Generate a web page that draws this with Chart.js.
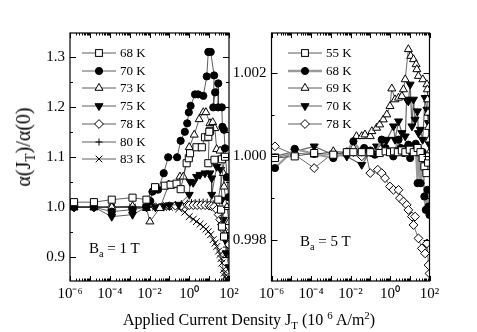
<!DOCTYPE html>
<html><head><meta charset="utf-8">
<script src="https://cdn.jsdelivr.net/npm/chart.js@4/dist/chart.umd.min.js"></script>
<style>
html,body{margin:0;padding:0;background:#fff;}
#wrap{position:relative;width:477px;height:332px;overflow:hidden;font-family:"Liberation Serif","Times New Roman",serif;color:#000;background:#fff;}
canvas{position:absolute;left:0;top:0;}
.t{position:absolute;white-space:nowrap;line-height:1;}
.t sub,.t sup{font-size:68%;line-height:0;}
.row{position:absolute;height:16px;display:flex;align-items:center;font-size:13px;white-space:nowrap;}
.row svg{display:block;margin-right:2px;}
</style></head>
<body><div id="wrap">
<canvas id="cL" width="477" height="332" style="width:477px;height:332px"></canvas>
<canvas id="cR" width="477" height="332" style="width:477px;height:332px"></canvas>
<div class="t" style="left:23px;top:147px;font-size:20px;transform:translate(-50%,-50%) rotate(-90deg);">α(J<sub>T</sub>)/α(0)</div>
<div class="t" style="left:249px;top:320px;font-size:16px;transform:translate(-50%,-50%);">Applied Current Density J<sub>T</sub> (10 <sup>6</sup> A/m<sup>2</sup>)</div>
<div class="t" style="left:89px;top:248px;font-size:15px;transform:translateY(-50%);">B<sub>a</sub> = 1 T</div>
<div class="t" style="left:300px;top:241px;font-size:15px;transform:translateY(-50%);">B<sub>a</sub> = 5 T</div>
<div id="legL"></div><div id="legR"></div>
</div>
<script>
// ---------- tick labels ----------
const xTickValues = [1e-6, 1e-4, 1e-2, 1, 100];
const xTickText = ['10⁻⁶', '10⁻⁴', '10⁻²', '10⁰', '10²'];
const leftYTicks = [0.9, 1.0, 1.1, 1.2, 1.3];
const leftYMinor = [0.95, 1.05, 1.15, 1.25];
const rightYTicks = [0.998, 1.000, 1.002];
const rightYMinor = [0.999, 1.001];

// ---------- left panel (Ba = 1 T) ----------
const leftLabels = ['68 K', '70 K', '73 K', '75 K', '78 K', '80 K', '83 K'];
const L68_J = [1.6e-6, 1.6e-5, 1.26e-4, 1.4e-3, 7e-3, 1.9e-2, 5.9e-2, 0.115, 0.23, 0.37, 0.74, 0.95, 1.1, 2.3, 4.3, 6.2, 9.1, 11.2, 10.2, 9.1, 18.6, 44, 63, 28.8, 40, 44, 56];
const L68_A = [1.010, 1.010, 1.015, 1.019, 1.015, 1.040, 1.043, 1.045, 1.047, 1.036, 1.088, 1.098, 1.108, 1.120, 1.120, 1.140, 1.141, 1.153, 1.151, 1.088, 1.095, 1.096, 1.101, 1.015, 0.995, 0.961, 0.941];
const L70_J = [1.6e-6, 1.6e-5, 1.26e-4, 1.4e-3, 7e-3, 1.1e-2, 1.4e-2, 2.7e-2, 5.2e-2, 8.7e-2, 0.245, 0.37, 0.6, 0.79, 0.95, 1.17, 1.95, 2.8, 5.1, 7.6, 9.1, 12, 17.8, 16.2, 20, 28.8, 28.8, 43.6, 46.8, 56, 63, 79, 95];
const L70_A = [1.0, 1.0, 0.991, 0.995, 1.0, 1.012, 1.031, 1.035, 1.068, 1.100, 1.100, 1.133, 1.151, 1.168, 1.190, 1.203, 1.226, 1.226, 1.223, 1.262, 1.311, 1.311, 1.264, 1.200, 1.230, 1.248, 1.200, 1.200, 1.161, 1.155, 1.118, 1.060, 1.020];
const L73_J = [1.6e-6, 1.6e-5, 1.26e-4, 1.4e-3, 7e-3, 1.05e-2, 3.3e-2, 9.3e-2, 0.125, 0.34, 0.5, 1.0, 1.78, 3.16, 5.1, 6.9, 11, 15.1, 19.5, 24, 35.5, 52, 56, 79, 100];
const L73_A = [1.0, 1.0, 1.0, 1.002, 0.998, 0.971, 0.998, 1.045, 1.043, 1.061, 1.061, 1.120, 1.145, 1.176, 1.190, 1.190, 1.168, 1.170, 1.158, 1.116, 1.113, 1.068, 1.041, 1.0, 0.97];
const L75_J = [1.6e-6, 1.6e-5, 1.26e-4, 1.4e-3, 7e-3, 2e-2, 5e-2, 0.1, 0.3, 1.0, 1.1, 1.58, 2.34, 3.47, 6.2, 11, 13.5, 13.5, 24, 38, 44, 52, 63, 71, 100];
const L75_A = [1.0, 1.0, 0.981, 0.985, 1.0, 1.0, 1.002, 1.004, 1.005, 1.025, 1.051, 1.049, 1.061, 1.065, 1.068, 1.068, 1.058, 1.025, 1.081, 1.075, 1.015, 0.975, 0.935, 0.908, 0.88];
const L78_J = [1.6e-6, 1.6e-5, 1.26e-4, 1.4e-3, 7e-3, 2e-2, 5e-2, 0.1, 0.2, 0.4, 0.8, 1.0, 1.6, 2.5, 4, 6.3, 10, 13, 18, 24, 30, 36, 44, 52, 63, 79, 100];
const L78_A = [1.0, 1.0, 1.0, 1.0, 1.0, 1.0, 1.001, 1.002, 1.003, 1.003, 1.004, 1.004, 1.004, 1.004, 1.004, 1.004, 1.003, 1.002, 1.001, 0.995, 0.985, 0.975, 0.965, 0.955, 0.945, 0.935, 0.925];
const L80_J = [1.6e-6, 1.6e-5, 1.26e-4, 1.4e-3, 7e-3, 2e-2, 5e-2, 0.1, 0.2, 0.4, 0.8, 1.3, 2, 3.2, 5, 8, 12, 16, 20, 26, 32, 40, 50, 63, 79, 100];
const L80_A = [1.0, 1.0, 1.0, 1.0, 1.0, 1.0, 1.0, 1.002, 1.004, 1.006, 1.007, 1.008, 1.008, 1.009, 1.009, 1.009, 1.008, 1.006, 1.002, 0.995, 0.985, 0.972, 0.958, 0.940, 0.920, 0.900];
const L83_J = [1.6e-6, 1.6e-5, 1.26e-4, 1.4e-3, 7e-3, 2e-2, 5e-2, 0.1, 0.3, 0.6, 1, 1.6, 2.3, 3.5, 5.1, 7, 9.1, 12, 16, 20, 24, 30, 35, 40, 44, 52, 58, 63, 72, 80, 90];
const L83_A = [1.0, 1.0, 1.0, 1.0, 1.0, 1.0, 1.0, 1.0, 0.997, 0.990, 0.981, 0.976, 0.971, 0.966, 0.961, 0.956, 0.951, 0.945, 0.935, 0.928, 0.921, 0.912, 0.905, 0.897, 0.888, 0.875, 0.868, 0.861, 0.857, 0.853, 0.860];

// ---------- right panel (Ba = 5 T) ----------
const rightLabels = ['55 K', '68 K', '69 K', '70 K', '78 K'];
const R55_J = [1.5e-6, 1.5e-5, 1.45e-4, 1.35e-3, 6.5e-3, 1.4e-2, 3.7e-2, 0.1, 0.3, 0.6, 1, 1.6, 2.5, 4, 6, 10, 16, 25, 35, 45, 55, 70, 85, 95];
const R55_A = [0.99996, 1.0, 1.00008, 1.00004, 1.0001, 1.0001, 1.0001, 1.0001, 1.00008, 1.00012, 1.0001, 1.00012, 1.0001, 1.00014, 1.0001, 1.00016, 1.0001, 1.0002, 1.0001, 0.99996, 0.99976, 0.9996, 0.99985, 1.0];
const R68_J = [1.5e-6, 1.5e-5, 1.45e-4, 1.35e-3, 6.5e-3, 1.4e-2, 3.7e-2, 4.9e-2, 0.1, 0.17, 0.38, 0.6, 1.47, 2.7, 3.5, 5, 7, 10.5, 8.5, 14, 20, 25, 27.5, 35, 45, 55, 65, 80, 90, 100];
const R68_A = [0.99972, 1.00018, 1.00006, 0.99996, 1.0001, 1.00036, 1.0001, 1.0002, 1.00014, 1.00004, 1.0004, 1.0002, 1.0, 1.0004, 1.0002, 1.00008, 1.0002, 0.99996, 1.00028, 1.00012, 1.0003, 0.99936, 1.00016, 0.99936, 1.0001, 0.99904, 0.99872, 0.9992, 0.9988, 0.9986];
const R69_J = [1.5e-6, 1.5e-5, 1.45e-4, 1.35e-3, 6.5e-3, 1.4e-2, 2e-2, 3.7e-2, 5.4e-2, 0.1, 0.12, 0.21, 0.3, 0.46, 0.69, 1, 1.23, 1.8, 2.7, 4, 4.8, 5.9, 8.5, 11.2, 15.5, 20.9, 22.9, 27.5, 45.7, 74, 78, 80, 85, 90, 95, 100];
const R69_A = [0.99996, 1.00008, 1.00004, 1.00012, 1.0001, 1.0002, 1.00048, 1.00048, 1.00052, 1.00048, 1.0006, 1.00068, 1.00076, 1.00088, 1.001, 1.0012, 1.00162, 1.00136, 1.0014, 1.00144, 1.0016, 1.00184, 1.00256, 1.0024, 1.00232, 1.0022, 1.00208, 1.00192, 1.00184, 1.00172, 1.0016, 1.00136, 1.00104, 1.0007, 1.0004, 1.0001];
const R70_J = [1.5e-6, 1.5e-5, 1.45e-4, 1.35e-3, 6.5e-3, 3.7e-2, 0.1, 0.21, 0.46, 0.7, 1.5, 1.8, 2.7, 4, 5.9, 7, 8.5, 10.5, 12.9, 15.5, 18.6, 24.5, 27.5, 34, 45, 60, 74, 89, 95];
const R70_A = [1.0, 1.00012, 1.00024, 1.00004, 1.0, 0.9998, 1.0001, 1.00024, 1.00028, 1.0004, 1.00072, 1.0004, 1.00084, 1.00056, 1.00048, 1.00136, 1.00132, 1.00172, 1.00072, 1.00136, 1.00088, 1.00108, 1.00056, 1.00064, 1.0004, 1.0014, 1.00112, 1.0008, 1.0003];
const R78_J = [1.5e-6, 1.5e-5, 1.45e-4, 1.35e-3, 6.5e-3, 1.4e-2, 3.7e-2, 6e-2, 0.1, 0.24, 0.38, 0.56, 1, 1.5, 2.7, 3.2, 4.8, 7, 8.5, 12.9, 18.6, 15.5, 27.5, 41, 60, 74, 89, 100];
const R78_A = [1.00024, 1.00004, 0.99972, 1.00008, 1.00008, 1.0001, 1.0, 1.0001, 0.9996, 0.99968, 0.9996, 0.99948, 0.99928, 0.9992, 0.9992, 0.999, 0.99892, 0.99884, 0.99872, 0.99856, 0.99856, 0.99836, 0.99804, 0.9978, 0.99768, 0.99792, 0.9974, 0.9972];

// ---------- marker styles ----------
const ST = {
  sq:   {shape: 'rect', filled: false, r: 5, rot: 0},
  ci:   {shape: 'circle', filled: true, r: 3.6, rot: 0},
  tri:  {shape: 'triangle', filled: false, r: 4.6, rot: 0},
  trid: {shape: 'triangle', filled: true, r: 4.6, rot: 180},
  dia:  {shape: 'rectRot', filled: false, r: 4.4, rot: 0},
  plus: {shape: 'cross', filled: false, r: 4, rot: 0},
  x:    {shape: 'crossRot', filled: false, r: 4.8, rot: 0}
};

function ds(label, J, A, st, lineColor, lineWidth) {
  return {
    label, data: J.map((j, i) => ({x: j, y: A[i]})),
    pointStyle: st.shape, pointRadius: st.r, pointRotation: st.rot,
    pointBackgroundColor: st.filled ? '#000' : '#fff', pointBorderColor: '#000', pointBorderWidth: 1,
    borderColor: lineColor, borderWidth: lineWidth, backgroundColor: '#000', fill: false, tension: 0
  };
}

const frameTicks = {
  id: 'frameTicks',
  afterDraw(chart, args, o) {
    const {ctx, chartArea: a, scales: {x, y}} = chart;
    ctx.save();
    ctx.strokeStyle = '#000'; ctx.lineWidth = 1;
    ctx.beginPath();
    for (let e = -6; e <= 2; e++) {
      for (let m = 1; m <= 9; m++) {
        if (e === 2 && m > 1) break;
        const px = Math.round(x.getPixelForValue(m * Math.pow(10, e))) + 0.5;
        const len = m === 1 ? 5 : 2.5;
        ctx.moveTo(px, a.bottom); ctx.lineTo(px, a.bottom - len);
        ctx.moveTo(px, a.top); ctx.lineTo(px, a.top + len);
      }
    }
    o.major.forEach(v => {
      const py = Math.round(y.getPixelForValue(v)) + 0.5;
      ctx.moveTo(a.left, py); ctx.lineTo(a.left + 6, py);
      ctx.moveTo(a.right, py); ctx.lineTo(a.right - 6, py);
    });
    o.minor.forEach(v => {
      const py = Math.round(y.getPixelForValue(v)) + 0.5;
      ctx.moveTo(a.left, py); ctx.lineTo(a.left + 3, py);
      ctx.moveTo(a.right, py); ctx.lineTo(a.right - 3, py);
    });
    ctx.stroke();
    ctx.lineWidth = 1.2;
    ctx.strokeRect(a.left, a.top, a.right - a.left, a.bottom - a.top);
    ctx.restore();
  }
};

function makeChart(id, datasets, pad, yWidth, yMin, yMax, yTicks, yMinor, digits) {
  return new Chart(document.getElementById(id), {
    type: 'line',
    data: {datasets},
    plugins: [frameTicks],
    options: {
      responsive: false, animation: false,
      layout: {padding: pad},
      plugins: {legend: {display: false}, tooltip: {enabled: false}, frameTicks: {major: yTicks, minor: yMinor}},
      scales: {
        x: {
          type: 'logarithmic', min: 1e-6, max: 100,
          grid: {display: false, drawTicks: false}, border: {display: false},
          afterBuildTicks: s => { s.ticks = xTickValues.map(v => ({value: v})); },
          afterFit: s => { s.height = 51; },
          ticks: {autoSkip: false, maxRotation: 0, padding: 4, color: '#000',
            font: {family: 'Liberation Serif', size: 15},
            callback: (v, i) => xTickText[i]}
        },
        y: {
          type: 'linear', min: yMin, max: yMax,
          grid: {display: false, drawTicks: false}, border: {display: false},
          afterBuildTicks: s => { s.ticks = yTicks.map(v => ({value: v})); },
          afterFit: s => { s.width = yWidth; },
          ticks: {autoSkip: false, padding: 5, color: '#000',
            font: {family: 'Liberation Serif', size: 15},
            callback: v => Number(v).toFixed(digits)}
        }
      }
    }
  });
}

const dk = '#333';
makeChart('cL', [
  ds(leftLabels[0], L68_J, L68_A, ST.sq, dk, 0.8),
  ds(leftLabels[1], L70_J, L70_A, ST.ci, dk, 0.8),
  ds(leftLabels[2], L73_J, L73_A, ST.tri, dk, 0.8),
  ds(leftLabels[3], L75_J, L75_A, ST.trid, dk, 0.8),
  ds(leftLabels[4], L78_J, L78_A, ST.dia, dk, 0.8),
  ds(leftLabels[5], L80_J, L80_A, ST.plus, dk, 0.8),
  ds(leftLabels[6], L83_J, L83_A, ST.x, dk, 0.8)
], {left: 0, top: 33, right: 248, bottom: 0}, 70, 0.852, 1.349, leftYTicks, leftYMinor, 1);

const rightStyles = [[ST.sq, dk, 0.8], [ST.ci, '#9a9a9a', 2.2], [ST.tri, '#444', 0.8], [ST.trid, '#666', 1.2], [ST.dia, '#444', 0.8]];
makeChart('cR', [
  ds(rightLabels[0], R55_J, R55_A, ...rightStyles[0]),
  ds(rightLabels[1], R68_J, R68_A, ...rightStyles[1]),
  ds(rightLabels[2], R69_J, R69_A, ...rightStyles[2]),
  ds(rightLabels[3], R70_J, R70_A, ...rightStyles[3]),
  ds(rightLabels[4], R78_J, R78_A, ...rightStyles[4])
], {left: 220, top: 33, right: 47.5, bottom: 0}, 51.5, 0.99702, 1.00295, rightYTicks, rightYMinor, 3);

// ---------- legends ----------
function markerSvg(st, cx, cy) {
  const f = st.filled ? '#000' : '#fff';
  const s = 'stroke="#000" stroke-width="1"';
  if (st.shape === 'rect') return `<rect x="${cx-3.4}" y="${cy-3.4}" width="6.8" height="6.8" fill="${f}" ${s}/>`;
  if (st.shape === 'circle') return `<circle cx="${cx}" cy="${cy}" r="3.6" fill="${f}" ${s}/>`;
  if (st.shape === 'triangle' && st.rot === 0) return `<polygon points="${cx},${cy-4.6} ${cx+4},${cy+2.3} ${cx-4},${cy+2.3}" fill="${f}" ${s}/>`;
  if (st.shape === 'triangle') return `<polygon points="${cx},${cy+4.6} ${cx+4},${cy-2.3} ${cx-4},${cy-2.3}" fill="${f}" ${s}/>`;
  if (st.shape === 'rectRot') return `<polygon points="${cx},${cy-4.4} ${cx+4.4},${cy} ${cx},${cy+4.4} ${cx-4.4},${cy}" fill="${f}" ${s}/>`;
  if (st.shape === 'cross') return `<path d="M${cx-3.5} ${cy}H${cx+3.5}M${cx} ${cy-3.5}V${cy+3.5}" ${s}/>`;
  return `<path d="M${cx-3.3} ${cy-3.3}L${cx+3.3} ${cy+3.3}M${cx+3.3} ${cy-3.3}L${cx-3.3} ${cy+3.3}" ${s}/>`;
}
function legend(id, labels, styles, left, top0, step) {
  const el = document.getElementById(id);
  labels.forEach((lab, i) => {
    const [st, col, w] = styles[i];
    const row = document.createElement('div');
    row.className = 'row';
    row.style.left = left + 'px';
    row.style.top = (top0 + i * step - 8) + 'px';
    row.innerHTML = `<svg width="36" height="16"><line x1="0" y1="8" x2="34" y2="8" stroke="${col}" stroke-width="${w}"/>${markerSvg(st, 17, 8)}</svg><span>${lab}</span>`;
    el.appendChild(row);
  });
}
const leftStyles = [[ST.sq, dk, 0.8], [ST.ci, dk, 0.8], [ST.tri, dk, 0.8], [ST.trid, dk, 0.8], [ST.dia, dk, 0.8], [ST.plus, dk, 0.8], [ST.x, dk, 0.8]];
legend('legL', leftLabels, leftStyles, 82, 53, 17.7);
legend('legR', rightLabels, [[ST.sq, dk, 0.8], [ST.ci, '#9a9a9a', 2.5], [ST.tri, dk, 0.8], [ST.trid, dk, 0.8], [ST.dia, dk, 0.8]], 288, 53, 17.7);
</script>
</body></html>
